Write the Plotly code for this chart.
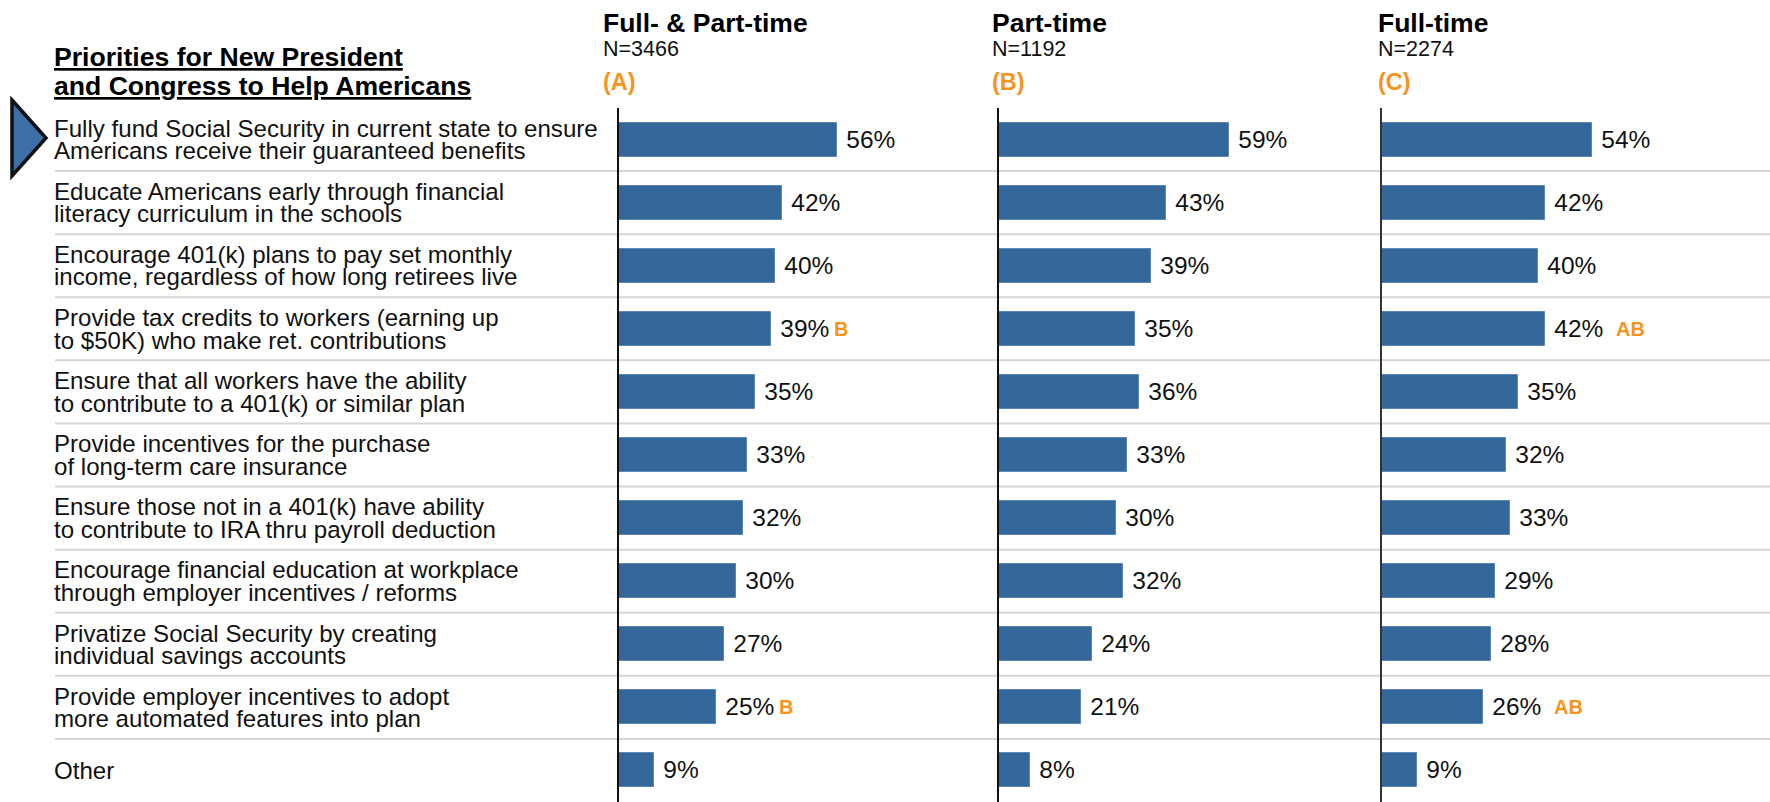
import plotly.graph_objects as go

# ---------------- data ----------------
categories = [
    "Fully fund Social Security in current state to ensure\nAmericans receive their guaranteed benefits",
    "Educate Americans early through financial\nliteracy curriculum in the schools",
    "Encourage 401(k) plans to pay set monthly\nincome, regardless of how long retirees live",
    "Provide tax credits to workers (earning up\nto $50K) who make ret. contributions",
    "Ensure that all workers have the ability\nto contribute to a 401(k) or similar plan",
    "Provide incentives for the purchase\nof long-term care insurance",
    "Ensure those not in a 401(k) have ability\nto contribute to IRA thru payroll deduction",
    "Encourage financial education at workplace\nthrough employer incentives / reforms",
    "Privatize Social Security by creating\nindividual savings accounts",
    "Provide employer incentives to adopt\nmore automated features into plan",
    "Other",
]
full_and_part = [56, 42, 40, 39, 35, 33, 32, 30, 27, 25, 9]
part_time = [59, 43, 39, 35, 36, 33, 30, 32, 24, 21, 8]
full_time = [54, 42, 40, 42, 35, 32, 33, 29, 28, 26, 9]
sig_a = ["", "", "", "B", "", "", "", "", "", "B", ""]
sig_b = ["", "", "", "", "", "", "", "", "", "", ""]
sig_c = ["", "", "", "AB", "", "", "", "", "", "AB", ""]
panel_titles = ["Full- & Part-time", "Part-time", "Full-time"]
panel_ns = ["N=3466", "N=1192", "N=2274"]
panel_letters = ["(A)", "(B)", "(C)"]
title_lines = ["Priorities for New President", "and Congress to Help Americans"]

# ---------------- style ----------------
W, H = 1770, 802
FONT = "Liberation Sans, Arial, sans-serif"
BAR = "#336699"
ORANGE = "#F7941D"
PX_PER_PCT = 3.89
TOP = 108  # top of plotting area (px)
panel_px = [(619, 995), (999, 1378), (1382, 1770)]
header_x = [601, 990, 1376]
sig_shift = [61, 61, 69]
n_rows = len(categories)


def px(x):
    return x / W


def py(y):
    return 1 - y / H


series = [full_and_part, part_time, full_time]
sigs = [sig_a, sig_b, sig_c]

fig = go.Figure()
rows = list(range(n_rows))
for k, vals in enumerate(series):
    sfx = "" if k == 0 else str(k + 1)
    fig.add_trace(go.Bar(
        x=vals, y=rows, orientation="h",
        xaxis="x" + sfx, yaxis="y" + sfx,
        width=0.54,
        marker=dict(color=BAR, line=dict(color="#5b86b6", width=1)),
        text=[f" {v}%" for v in vals],
        textposition="outside",
        textfont=dict(size=24.5, color="#111111", family=FONT),
        cliponaxis=False,
        constraintext="none",
        hoverinfo="skip",
        showlegend=False,
    ))

layout = dict(
    width=W, height=H, autosize=False,
    margin=dict(l=0, r=0, t=0, b=0),
    paper_bgcolor="white", plot_bgcolor="white",
    font=dict(family=FONT, color="#111111"),
    bargap=0,
    showlegend=False,
)
ydom = [0, 1 - TOP / H]
for k, (x0, x1) in enumerate(panel_px):
    sfx = "" if k == 0 else str(k + 1)
    layout["xaxis" + sfx] = dict(
        domain=[px(x0), px(x1)], range=[0, (x1 - x0) / PX_PER_PCT],
        anchor="y" + sfx, showgrid=False, zeroline=False, showline=False,
        showticklabels=False, ticks="", fixedrange=True,
    )
    layout["yaxis" + sfx] = dict(
        domain=ydom, range=[n_rows - 0.5, -0.5], anchor="x" + sfx,
        showgrid=False, zeroline=False, showticklabels=False, ticks="",
        showline=True, linecolor="#111111" if k < 2 else "#333333", linewidth=1.5,
        fixedrange=True,
    )
fig.update_layout(**layout)

shapes = []
# row separators
for i in range(n_rows - 1):
    shapes.append(dict(type="line", xref="paper", yref="y", x0=px(55), x1=1,
                       y0=i + 0.5, y1=i + 0.5, layer="below",
                       line=dict(color="#d6d6d6", width=2)))
# pointer arrow
ax = [(12, 100), (46, 138), (12, 176)]
path = "M {} {} L {} {} L {} {} Z".format(*[v for p in ax for v in (px(p[0]), py(p[1]))])
shapes.append(dict(type="path", xref="paper", yref="paper", path=path,
                   fillcolor="#3d6ea6", line=dict(color="#111111", width=3.5)))
fig.update_layout(shapes=shapes)

ann = []
# title
for j, (t, yc) in enumerate(zip(title_lines, [57, 86])):
    ann.append(dict(text=f"<b><u>{t}</u></b>", xref="paper", yref="paper",
                    x=px(52), y=py(yc), xanchor="left", yanchor="middle",
                    showarrow=False, font=dict(size=26.6, family=FONT, color="#000000")))
# panel headers
for k in range(3):
    ann.append(dict(text=f"<b>{panel_titles[k]}</b>", xref="paper", yref="paper",
                    x=px(header_x[k]), y=py(23), xanchor="left", yanchor="middle",
                    showarrow=False, font=dict(size=26.5, family=FONT, color="#000000")))
    ann.append(dict(text=panel_ns[k], xref="paper", yref="paper",
                    x=px(header_x[k]), y=py(49), xanchor="left", yanchor="middle",
                    showarrow=False, font=dict(size=21.5, family=FONT, color="#111111")))
    ann.append(dict(text=f"<b>{panel_letters[k]}</b>", xref="paper", yref="paper",
                    x=px(header_x[k]), y=py(82), xanchor="left", yanchor="middle",
                    showarrow=False, font=dict(size=23.5, family=FONT, color=ORANGE)))
# category labels
for i, cat in enumerate(categories):
    lines = cat.split("\n")
    n = len(lines)
    for j, line in enumerate(lines):
        shift = (n - 1) / 2 * 22.5 - j * 22.5
        ann.append(dict(text=line, xref="paper", yref="y", x=px(52), y=i,
                        xanchor="left", yanchor="middle", yshift=shift,
                        showarrow=False, font=dict(size=24.1, family=FONT, color="#111111")))
# significance letters
for k, sg in enumerate(sigs):
    sfx = "" if k == 0 else str(k + 1)
    for i, s in enumerate(sg):
        if s:
            ann.append(dict(text=f"<b>{s}</b>", xref="x" + sfx, yref="y" + sfx,
                            x=series[k][i], y=i, xanchor="left", yanchor="middle",
                            xshift=sig_shift[k], showarrow=False,
                            font=dict(size=20, family=FONT, color=ORANGE)))
fig.update_layout(annotations=ann)

fig.write_html("out.html", config={"displayModeBar": False},
               post_script="document.body.style.margin='0';")
